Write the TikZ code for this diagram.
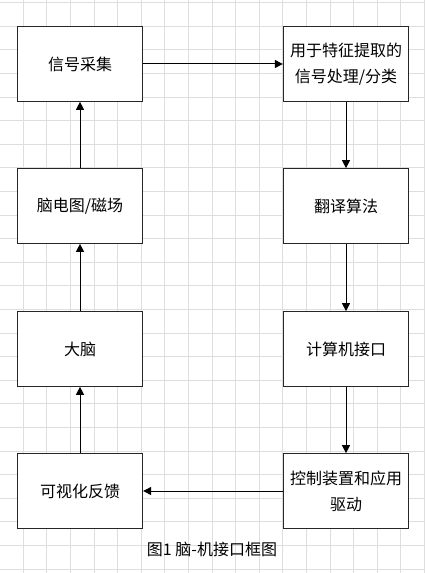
\documentclass[tikz,border=0pt]{standalone}
\usepackage{fontspec}
\setmainfont{Noto Sans CJK SC}
\usetikzlibrary{arrows.meta,positioning}

\definecolor{gridgray}{HTML}{DEDEDE}

\tikzset{
    gridline/.style={
        line width=0.75pt,
        color=gridgray
    },
    block/.style={
        draw=black!85,
        line width=0.75pt,
        fill=white,
        minimum width=94pt,
        minimum height=56pt,
        inner sep=0pt,
        align=center,
        font=\fontsize{12}{19.5}\selectfont
    },
    link/.style={
        -{Triangle[length=6pt,width=6pt]},
        line width=0.75pt
    }
}

\begin{document}
\begin{tikzpicture}[x=0.75pt,y=-0.75pt]
                \useasboundingbox (0,0) rectangle (425,573);

                % background grid
                \foreach \gx in {0,...,18} {
                    \draw[gridline] ({-0.3+23.6*\gx},0) -- ({-0.3+23.6*\gx},573);
                }
                \foreach \gy in {0,...,24} {
                    \draw[gridline] (0,{2.7+23.6*\gy}) -- (425,{2.7+23.6*\gy});
                }

                \node[block] (acq) at (80,64) {信号采集};
                \node[block] (feat) at (346,64) {用于特征提取的\\信号处理/分类};

                \node[block] (eeg) at (80,206) {脑电图/磁场};
                \node[block] (trans) at (346,206) {翻译算法};

                \node[block] (brain) at (80,349) {大脑};
                \node[block] (bci) at (346,349) {计算机接口};

                \node[block] (feedback) at (80,491) {可视化反馈};
                \node[block] (ctrl) at (346,491) {控制装置和应用\\驱动};

                \node[
                    font=\fontsize{12}{14}\selectfont
                ] (caption) at (212,549) {图1 脑-机接口框图};

                \draw[link] (acq) -- (feat);
                \draw[link] (feat) -- (trans);
                \draw[link] (trans) -- (bci);
                \draw[link] (bci) -- (ctrl);
                \draw[link] (ctrl) -- (feedback);
                \draw[link] (feedback) -- (brain);
                \draw[link] (brain) -- (eeg);
                \draw[link] (eeg) -- (acq);

\end{tikzpicture}
\end{document}
